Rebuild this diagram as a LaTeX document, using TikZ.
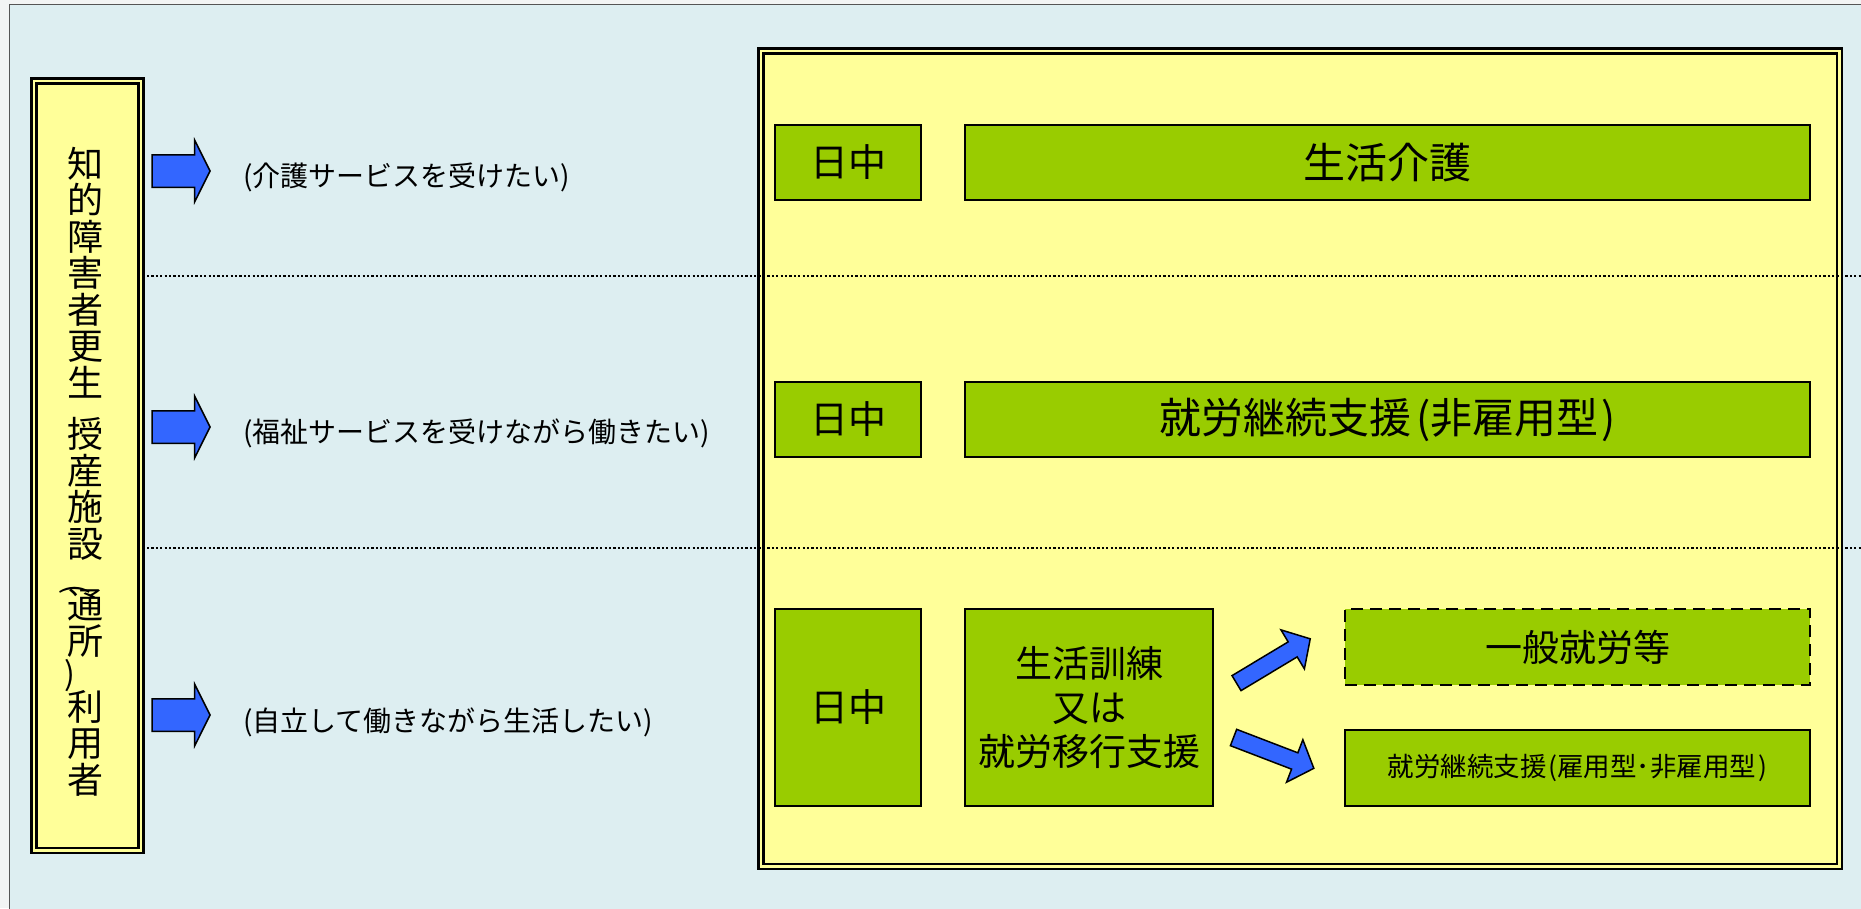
\documentclass[tikz,border=0pt]{standalone}
\usepackage{fontspec}
\setmainfont{Noto Sans CJK JP}
\usetikzlibrary{shapes.arrows}
\definecolor{bgblue}{HTML}{DDEEF1}
\definecolor{outside}{HTML}{F2F4F4}
\definecolor{framegray}{HTML}{555555}
\definecolor{paleyel}{HTML}{FFFF99}
\definecolor{leafgreen}{HTML}{99CC00}
\definecolor{arrowblue}{HTML}{3366FF}
\tikzset{
  dblbox/.style={draw=black, line width=2.5pt, double=paleyel, double distance=2.5pt, fill=paleyel, inner sep=0pt},
  greenbox/.style={draw=black, line width=2pt, fill=leafgreen, inner sep=0pt, align=center, text=black},
  dotline/.style={draw=black, line width=2.6pt, dash pattern=on 2.2pt off 2.2pt},
  barrow/.style={shape=single arrow, draw=black, line width=1.5pt, fill=arrowblue, inner sep=0pt,
    minimum height=58, inner ysep=15.5, single arrow head extend=14.5, single arrow tip angle=127},
  darrow/.style={shape=single arrow, draw=black, line width=1.5pt, fill=arrowblue, inner sep=0pt,
    minimum height=86, inner ysep=8, single arrow head extend=14, single arrow tip angle=96},
  lefttext/.style={anchor=west, inner sep=0pt, text=black, font=\fontsize{28}{32}\selectfont},
  coltext/.style={inner sep=0pt, align=center, text=black, font=\fontsize{36}{36.5}\selectfont},
}
\begin{document}
\begin{tikzpicture}[x=1pt,y=-1pt]
\path[fill=outside] (0,0) rectangle (1861,908);
\useasboundingbox (0,0) rectangle (1861,908);
\begin{scope}
  \clip (0,0) rectangle (1861,908);
  \draw[fill=bgblue, draw=framegray, line width=1.2pt] (9.5,4.5) rectangle (1880,930);
\end{scope}

% left box
\node[dblbox, minimum width=107, minimum height=769.5] (lbox) at (87.25,465.5) {};
\node[coltext] (col1) at (85,272.5) {知\\的\\障\\害\\者\\更\\生};
\node[coltext] (col2) at (85,489) {授\\産\\施\\設};
\node[coltext] (col3) at (85,623) {通\\所};
\node[inner sep=0pt, text=black, rotate=-90, font=\fontsize{30}{30}\selectfont] (lpar) at (75,590) {(};
\node[inner sep=0pt, text=black, font=\fontsize{32}{32}\selectfont] (rpar) at (70,676) {)};
\node[coltext] (col4) at (85,743) {利\\用\\者};

% right yellow box
\node[dblbox, minimum width=1078.5, minimum height=815.5] (rbox) at (1300,458.5) {};

% dotted separators
\coordinate (d1s) at (147,276);
\coordinate (d1e) at (1861,276);
\coordinate (d2s) at (147,548);
\coordinate (d2e) at (1861,548);
\draw[dotline] (d1s) -- (d1e);
\draw[dotline] (d2s) -- (d2e);

% left arrows and texts
\node[barrow] (a1) at (177,171) {};
\node[barrow] (a2) at (177,427) {};
\node[barrow] (a3) at (177,715) {};
\node[lefttext] (t1) at (243,177) {(介護サービスを受けたい)};
\node[lefttext] (t2) at (243,433) {(福祉サービスを受けながら働きたい)};
\node[lefttext] (t3) at (243,722) {(自立して働きながら生活したい)};

% row 1
\node[greenbox, minimum width=146, minimum height=75, font=\fontsize{38}{40}\selectfont] (day1) at (848,162.5) {日中};
\node[greenbox, minimum width=845, minimum height=75, font=\fontsize{42}{44}\selectfont] (care) at (1387.5,162.5) {生活介護};
% row 2
\node[greenbox, minimum width=146, minimum height=75, font=\fontsize{38}{40}\selectfont] (day2) at (848,419.5) {日中};
\node[greenbox, minimum width=845, minimum height=75, font=\fontsize{42}{44}\selectfont] (cont) at (1387.5,419.5) {就労継続支援\kern5pt(非雇用型\kern3pt)};
% row 3
\node[greenbox, minimum width=146, minimum height=197, font=\fontsize{38}{40}\selectfont] (day3) at (848,707.5) {日中};
\node[greenbox, minimum width=248, minimum height=197, font=\fontsize{37}{44}\selectfont] (train) at (1089,707.5) {生活訓練\\又は\\就労移行支援};
\node[greenbox, dashed, dash pattern=on 12pt off 7pt, line width=2.5pt, minimum width=465, minimum height=76, font=\fontsize{37}{40}\selectfont] (general) at (1577.5,647) {一般就労等};
\node[greenbox, minimum width=465, minimum height=76, font=\fontsize{26.5}{30}\selectfont] (contab) at (1577.5,768) {就労継続支援\kern1.5pt(雇用型･非雇用型\kern2pt)};

% diagonal arrows
\node[darrow, rotate=31] (up) at (1270,663) {};
\node[darrow, rotate=-21] (dn) at (1270,751.5) {};
\end{tikzpicture}
\end{document}
